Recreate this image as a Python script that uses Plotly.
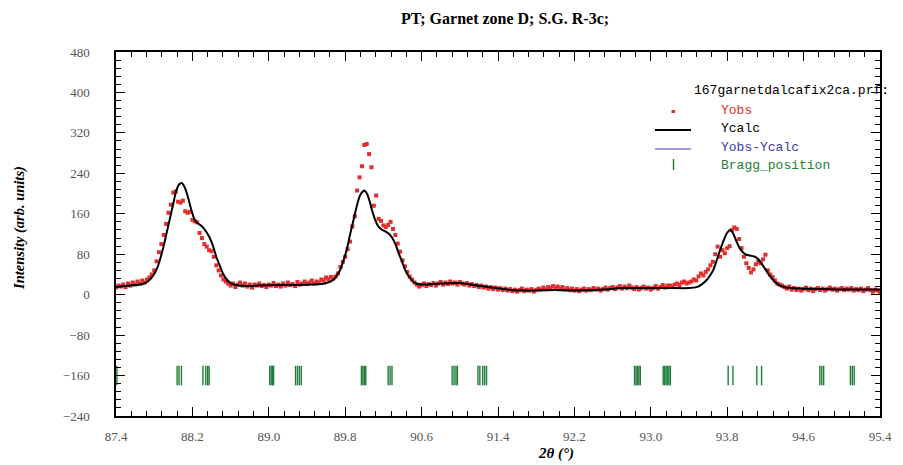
import plotly.graph_objects as go

# ---------------- data ----------------
title_text = "PT; Garnet zone D; S.G. R-3c;"
file_label = "167garnetdalcafix2ca.prf:"
legend_labels = ["Yobs", "Ycalc", "Yobs-Ycalc", "Bragg_position"]

# observed profile: 2theta grid start / step, intensities read row by row (8 per 0.2 deg)
obs_start = 87.4
obs_step = 0.025
y_obs = [
    14, 18, 16, 20, 15, 22, 18, 24,        # 87.4
    20, 26, 22, 28, 24, 30, 34, 40,        # 87.6
    48, 66, 84, 100, 118, 140, 162, 178,   # 87.8
    202, 204, 184, 182, 186, 165, 162, 164,  # 88.0
    148, 145, 143, 122, 112, 100, 95, 88,  # 88.2
    86, 75, 58, 48, 38, 30, 26, 22,        # 88.4
    18, 22, 15, 20, 24, 18, 22, 16,        # 88.6
    20, 14, 20, 18, 22, 17, 19, 15,        # 88.8
    20, 18, 23, 17, 20, 16, 22, 18,        # 89.0
    24, 19, 21, 17, 25, 20, 22, 26,        # 89.2
    21, 24, 28, 22, 26, 24, 30, 28,        # 89.4
    34, 30, 35, 32, 36, 42, 55, 65,        # 89.6
    75, 90, 105, 135, 155, 206, 232, 254,  # 89.8
    296, 298, 278, 252, 176, 196, 150, 146,  # 90.0
    137, 134, 138, 144, 130, 118, 101, 85,  # 90.2
    68, 56, 45, 36, 30, 24, 20, 16,        # 90.4
    19, 22, 17, 21, 19, 23, 18, 22,        # 90.6
    25, 20, 24, 21, 26, 22, 24, 20,        # 90.8
    25, 22, 20, 23, 18, 21, 17, 19,        # 91.0
    15, 18, 14, 16, 12, 15, 11, 14,        # 91.2
    10, 13, 9, 12, 8, 11, 7, 10,           # 91.4
    6, 9, 12, 7, 10, 8, 11, 6,             # 91.6
    9, 12, 10, 14, 11, 15, 13, 17,         # 91.8
    14, 16, 12, 15, 10, 13, 9, 12,         # 92.0
    8, 11, 7, 10, 12, 8, 11, 9,            # 92.2
    13, 10, 12, 8, 11, 14, 10, 13,         # 92.4
    15, 11, 14, 17, 12, 16, 13, 18,        # 92.6
    14, 11, 15, 10, 13, 16, 12, 14,        # 92.8
    10, 13, 17, 12, 15, 19, 14, 18,        # 93.0
    18, 16, 20, 22, 19, 24, 26, 22,        # 93.2
    24, 26, 30, 28, 36, 42, 38, 45,        # 93.4
    50, 58, 65, 80, 95, 75, 88, 82,        # 93.6
    92, 96, 128, 133, 130, 110, 92, 75,    # 93.8
    62, 53, 44, 50, 60, 65, 62, 70,        # 94.0
    79, 48, 40, 35, 28, 22, 20, 18,        # 94.2
    15, 12, 16, 10, 13, 9, 12, 8,          # 94.4
    11, 14, 9, 12, 7, 11, 13, 9,           # 94.6
    12, 8, 11, 14, 10, 12, 8, 11,          # 94.8
    13, 9, 12, 10, 13, 8, 11, 9,           # 95.0
    12, 7, 10, 13, 9, 6, 10, 8,            # 95.2
    5,                                     # 95.4
]

# calculated profile
calc_x = [87.40, 87.50, 87.60, 87.68, 87.74, 87.79, 87.83, 87.86, 87.90, 87.93,
          87.97, 88.00, 88.03, 88.06, 88.09, 88.12, 88.15, 88.19, 88.22, 88.25,
          88.28, 88.31, 88.35, 88.38, 88.42, 88.45, 88.49, 88.52, 88.56, 88.60,
          88.66, 88.75, 88.90, 89.10, 89.30, 89.45, 89.55, 89.62, 89.68, 89.72,
          89.75, 89.78, 89.82, 89.85, 89.89, 89.93, 89.96, 90.00, 90.03, 90.06,
          90.09, 90.12, 90.15, 90.18, 90.22, 90.26, 90.29, 90.33, 90.36, 90.40,
          90.43, 90.47, 90.51, 90.56, 90.62, 90.80, 91.00, 91.15, 91.30, 91.50,
          91.70, 92.00, 92.20, 92.50, 92.70, 93.00, 93.20, 93.40, 93.48, 93.53,
          93.585, 93.62, 93.655, 93.69, 93.725, 93.76, 93.795, 93.83, 93.86, 93.90,
          93.93, 93.97, 94.00, 94.05, 94.09, 94.13, 94.16, 94.20, 94.25, 94.30,
          94.35, 94.42, 94.55, 94.80, 95.10, 95.40]
calc_y = [15, 17, 19, 21, 27, 38, 52, 69, 97, 122,
          155, 180, 205, 218, 221, 212, 195, 167, 150, 142,
          138, 133, 123, 113, 94, 75, 56, 42, 30, 23,
          19, 17, 18, 19, 19, 20, 21, 24, 30, 40,
          50, 66, 92, 118, 150, 182, 198, 206, 199, 182,
          161, 145, 134, 129, 125, 120, 113, 98, 82, 63,
          48, 35, 26, 21, 20, 22, 23, 19, 15, 10,
          8, 9, 8, 10, 13, 13, 13, 13, 15, 20,
          29, 38, 49, 68, 88, 106, 121, 128, 122, 104,
          92, 83, 79, 77, 75, 69, 62, 50, 36, 25,
          18, 14, 12, 11, 10, 10]

# Bragg reflection positions
bragg_x = [87.41,
           88.04, 88.06, 88.085,
           88.31, 88.34, 88.36, 88.375,
           89.01, 89.025, 89.04, 89.05,
           89.28, 89.30, 89.32, 89.34,
           89.97, 89.985, 90.0, 90.015,
           90.25, 90.27, 90.29,
           90.92, 90.94, 90.96, 90.975,
           91.19, 91.21, 91.24, 91.26, 91.28,
           92.83, 92.845, 92.86, 92.875, 92.89,
           93.13, 93.145, 93.16, 93.175, 93.19, 93.205,
           93.81, 93.86,
           94.11, 94.16,
           94.77, 94.79, 94.81,
           95.09, 95.11, 95.13]
bragg_level = -160

x_ticks = [87.4, 88.2, 89.0, 89.8, 90.6, 91.4, 92.2, 93.0, 93.8, 94.6, 95.4]
y_ticks = [-240, -160, -80, 0, 80, 160, 240, 320, 400, 480]

# ---------------- figure ----------------
RED = "rgb(228,45,45)"
GREEN = "rgb(30,125,55)"
BLUE = "rgb(60,60,170)"
SERIF = "Liberation Serif"
MONO = "Liberation Mono"

W, H = 903, 465
L, R, T, B = 116, 23, 52, 49
pw, ph = W - L - R, H - T - B


def px(xp):
    return (xp - L) / pw


def py(yp):
    return (H - B - yp) / ph


x_obs = [round(obs_start + i * obs_step, 3) for i in range(len(y_obs))]

fig = go.Figure()
fig.add_trace(go.Scatter(x=x_obs, y=y_obs, mode="markers",
                         marker=dict(symbol="square", size=4, color=RED, line=dict(width=0)),
                         name="Yobs", showlegend=False))
fig.add_trace(go.Scatter(x=calc_x, y=calc_y, mode="lines",
                         line=dict(color="black", width=2, shape="spline", smoothing=0.6),
                         name="Ycalc", showlegend=False))
fig.add_trace(go.Scatter(x=bragg_x, y=[bragg_level] * len(bragg_x), mode="markers",
                         marker=dict(symbol="line-ns", size=14, line=dict(color=GREEN, width=1.4)),
                         name="Bragg_position", showlegend=False))

axis_common = dict(showgrid=False, zeroline=False, showline=True, linecolor="black",
                   linewidth=1.5, mirror="allticks", ticks="inside", ticklen=9,
                   tickwidth=1.2, tickcolor="black",
                   tickfont=dict(family=SERIF, size=13, color="#555555"))

fig.update_xaxes(range=[87.4, 95.4], tickvals=x_ticks, tickformat=".1f",
                 ticklabelstandoff=8,
                 minor=dict(dtick=0.16, tick0=87.4, ticks="inside", ticklen=5,
                            tickcolor="black", tickwidth=1),
                 **axis_common)
fig.update_yaxes(range=[-240, 480], tickvals=y_ticks, ticklabelstandoff=22,
                 minor=dict(dtick=16, tick0=0, ticks="inside", ticklen=5,
                            tickcolor="black", tickwidth=1),
                 **axis_common)


def note(text, xp, yp, font, xanchor="center", **kw):
    return dict(text=text, x=px(xp), y=py(yp), xref="paper", yref="paper",
                xanchor=xanchor, yanchor="middle", showarrow=False, font=font, **kw)


annotations = [
    note("<b>" + title_text + "</b>", 505, 18, dict(family=SERIF, size=16, color="black")),
    note("<b><i>Intensity (arb. units)</i></b>", 20, 228,
         dict(family=SERIF, size=14.5, color="black"), textangle=-90),
    note("<b><i>2θ (°)</i></b>", 556, 453, dict(family=SERIF, size=15, color="black")),
    note(file_label, 692, 91, dict(family=MONO, size=13, color="black"), xanchor="left"),
]
legend_colors = [RED, "black", BLUE, GREEN]
legend_y = [110, 128, 147, 165]
for lab, col, yy in zip(legend_labels, legend_colors, legend_y):
    annotations.append(note(lab, 719, yy, dict(family=MONO, size=13, color=col), xanchor="left"))

shapes = [
    dict(type="rect", xref="paper", yref="paper", x0=px(671.5), x1=px(675), y0=py(110), y1=py(113),
         fillcolor=RED, line=dict(width=0)),
    dict(type="line", xref="paper", yref="paper", x0=px(655), x1=px(691), y0=py(130), y1=py(130),
         line=dict(color="black", width=2)),
    dict(type="line", xref="paper", yref="paper", x0=px(655), x1=px(691), y0=py(149), y1=py(149),
         line=dict(color=BLUE, width=1)),
    dict(type="line", xref="paper", yref="paper", x0=px(673.5), x1=px(673.5), y0=py(159), y1=py(170),
         line=dict(color=GREEN, width=1.4)),
]

fig.update_layout(width=W, height=H, margin=dict(l=L, r=R, t=T, b=B),
                  paper_bgcolor="white", plot_bgcolor="white",
                  annotations=annotations, shapes=shapes, showlegend=False)

fig.write_html("out.html", config={"displayModeBar": False},
               post_script="document.body.style.margin='0';document.body.style.overflow='hidden';")
